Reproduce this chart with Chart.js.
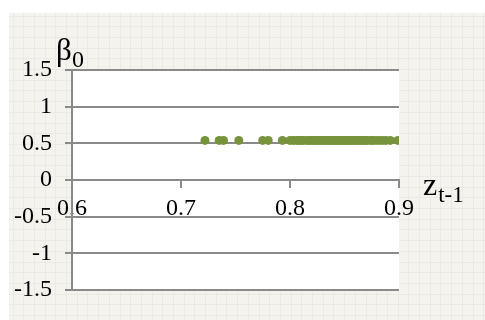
<!DOCTYPE html>
<html>
<head>
<meta charset="utf-8">
<script src="https://cdn.jsdelivr.net/npm/chart.js@4/dist/chart.umd.min.js"></script>
<style>
  html, body { margin: 0; padding: 0; background: #fff; }
  #wrap { width: 485px; height: 320px; }
</style>
</head>
<body>
<div id="wrap"><canvas id="chart"></canvas></div>
<script>
// z(t-1) values of the estimates, beta0 at each
const zValues = [0.722, 0.735, 0.739, 0.753, 0.775, 0.780, 0.793,
  0.800, 0.803, 0.806, 0.808, 0.810, 0.812, 0.815, 0.817, 0.819, 0.821,
  0.823, 0.825, 0.827, 0.829, 0.831, 0.833, 0.835, 0.836, 0.838, 0.840,
  0.841, 0.843, 0.845, 0.846, 0.848, 0.849, 0.851, 0.852, 0.854, 0.855,
  0.857, 0.859, 0.861, 0.863, 0.865, 0.867, 0.869, 0.871, 0.874, 0.876,
  0.879, 0.882, 0.885, 0.888, 0.892, 0.899];
const betaValues = [0.54, 0.54, 0.54, 0.54, 0.54, 0.54, 0.54,
  0.54, 0.54, 0.54, 0.54, 0.54, 0.54, 0.54, 0.54, 0.54, 0.54,
  0.54, 0.54, 0.54, 0.54, 0.54, 0.54, 0.54, 0.54, 0.54, 0.54,
  0.54, 0.54, 0.54, 0.54, 0.54, 0.54, 0.54, 0.54, 0.54, 0.54,
  0.54, 0.54, 0.54, 0.54, 0.54, 0.54, 0.54, 0.54, 0.54, 0.54,
  0.54, 0.54, 0.54, 0.54, 0.54, 0.54];

const xTicks = [0.6, 0.7, 0.8, 0.9];
const xTickLabels = ['0.6', '0.7', '0.8', '0.9'];
const yTicks = [-1.5, -1, -0.5, 0, 0.5, 1, 1.5];
const yTickLabels = ['-1.5', '-1', '-0.5', '0', '0.5', '1', '1.5'];

const serif = '"Liberation Serif", "Times New Roman", serif';
const axisGray = '#8a8a8a';

// slide-style backdrop: beige panel with faint squares, white plot area
const backdrop = {
  id: 'backdrop',
  beforeDraw(chart) {
    const { ctx, width, height, chartArea: a } = chart;
    ctx.save();
    ctx.fillStyle = '#ffffff';
    ctx.fillRect(0, 0, width, height);
    ctx.fillStyle = '#f4f3ee';
    ctx.fillRect(9, 13, width - 9, height - 13);
    ctx.strokeStyle = '#ebeae4';
    ctx.lineWidth = 1;
    ctx.beginPath();
    for (let x = 12.5; x < width; x += 10.7) {
      ctx.moveTo(Math.round(x) + 0.5, 13);
      ctx.lineTo(Math.round(x) + 0.5, height);
    }
    for (let y = 15.5; y < height; y += 10.7) {
      ctx.moveTo(9, Math.round(y) + 0.5);
      ctx.lineTo(width, Math.round(y) + 0.5);
    }
    ctx.stroke();
    ctx.fillStyle = '#ffffff';
    ctx.fillRect(a.left, a.top, a.right - a.left, a.bottom - a.top);
    ctx.restore();
  }
};

// axis titles with subscripts
const axisTitles = {
  id: 'axisTitles',
  afterDraw(chart) {
    const { ctx } = chart;
    ctx.save();
    ctx.fillStyle = '#000';
    ctx.textBaseline = 'alphabetic';
    ctx.textAlign = 'left';
    ctx.font = '31px ' + serif;
    ctx.fillText('β', 56, 60);
    ctx.font = '24px ' + serif;
    ctx.fillText('0', 72, 67);
    ctx.font = '32px ' + serif;
    ctx.fillText('z', 423, 195);
    const zw = ctx.measureText('z').width;
    ctx.font = '23px ' + serif;
    ctx.fillText('t-1', 423 + zw + 1, 202);
    ctx.restore();
  }
};

new Chart(document.getElementById('chart'), {
  type: 'scatter',
  data: {
    datasets: [{
      data: zValues.map((z, i) => ({ x: z, y: betaValues[i] })),
      backgroundColor: '#77933c',
      borderWidth: 0,
      pointRadius: 4.5,
      pointHoverRadius: 4.5
    }]
  },
  options: {
    responsive: true,
    maintainAspectRatio: false,
    animation: false,
    layout: { padding: { top: 70, right: 86, bottom: 30, left: 0 } },
    plugins: { legend: { display: false }, tooltip: { enabled: false } },
    scales: {
      x: {
        type: 'linear',
        position: { y: 0 },
        min: 0.6,
        max: 0.9,
        afterBuildTicks: (s) => { s.ticks = xTicks.map(v => ({ value: v })); },
        ticks: {
          callback: (v, i) => xTickLabels[i],
          color: '#000',
          padding: 7,
          maxRotation: 0,
          font: { family: serif, size: 24 }
        },
        grid: { drawOnChartArea: false, drawTicks: true, tickLength: 7, color: axisGray, lineWidth: 2 },
        border: { color: axisGray, width: 2 }
      },
      y: {
        min: -1.5,
        max: 1.5,
        afterBuildTicks: (s) => { s.ticks = yTicks.map(v => ({ value: v })); },
        afterFit: (s) => { s.width = 72; },
        ticks: {
          callback: (v, i) => yTickLabels[i],
          color: '#000',
          padding: 13,
          font: { family: serif, size: 24 }
        },
        grid: { color: axisGray, lineWidth: 2, tickLength: 7 },
        border: { color: axisGray, width: 2 }
      }
    }
  },
  plugins: [backdrop, axisTitles]
});
</script>
</body>
</html>
